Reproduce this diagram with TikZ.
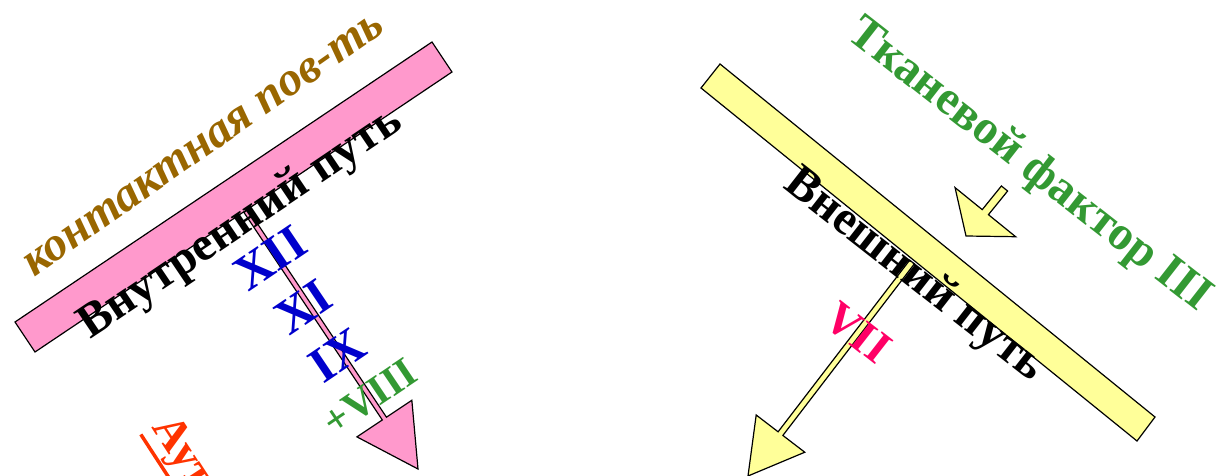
\documentclass[tikz,border=0pt]{standalone}
\usepackage{fontspec}
\setmainfont{Liberation Serif}
\usetikzlibrary{calc}
\definecolor{pinkfill}{HTML}{FF99CC}
\definecolor{yelfill}{HTML}{FFFF99}
\definecolor{brownt}{HTML}{996600}
\definecolor{bluet}{HTML}{0000CC}
\definecolor{greent}{HTML}{339933}
\definecolor{magt}{HTML}{FF0066}
\definecolor{redt}{HTML}{FF3300}
\begin{document}
\begin{tikzpicture}[x=1pt,y=-1pt,line join=miter,
  bar/.style={draw=black,line width=1.2pt},
  lbl/.style={font=\fontsize{48}{52}\selectfont\bfseries,inner sep=0pt},
  ital/.style={font=\fontsize{48}{52}\selectfont\bfseries\itshape,inner sep=0pt},
  num/.style={font=\fontsize{50}{54}\selectfont\bfseries,inner sep=0pt}]
\useasboundingbox (0,0) rectangle (1220,476);
\clip (0,0) rectangle (1220,476);
% bars
\draw[bar,fill=pinkfill] (15,322) -- (35,352) -- (452,72) -- (432,42) -- cycle;
\draw[bar,fill=yelfill] (701,88) -- (720,64) -- (1155,417) -- (1137,441) -- cycle;
% pink block arrow
\coordinate (pS) at (246,211);
\coordinate (pT) at (418,469);
\coordinate (pM) at ($(pT)!60.6pt!(pS)$);
\draw[bar,fill=pinkfill] ($(pS)!2.5pt!90:(pT)$) -- ($(pM)!2.5pt!90:(pT)$) -- ($(pM)!33pt!90:(pT)$) -- (pT) -- ($(pM)!33pt!-90:(pT)$) -- ($(pM)!2.5pt!-90:(pT)$) -- ($(pS)!2.5pt!-90:(pT)$) -- cycle;
% yellow block arrow
\coordinate (yS) at (912,262);
\coordinate (yT) at (748,476);
\coordinate (yM) at ($(yT)!53.4pt!(yS)$);
\draw[bar,fill=yelfill] ($(yS)!3pt!90:(yT)$) -- ($(yM)!3pt!90:(yT)$) -- ($(yM)!30.6pt!90:(yT)$) -- (yT) -- ($(yM)!30.6pt!-90:(yT)$) -- ($(yM)!3pt!-90:(yT)$) -- ($(yS)!3pt!-90:(yT)$) -- cycle;
% small tissue factor arrow
\coordinate (sS) at (1004.5,188.5);
\coordinate (sT) at (966,236);
\coordinate (sM) at ($(sT)!30.7pt!(sS)$);
\draw[bar,fill=yelfill] ($(sS)!4pt!90:(sT)$) -- ($(sM)!4pt!90:(sT)$) -- ($(sM)!39pt!90:(sT)$) -- (sT) -- ($(sM)!39pt!-90:(sT)$) -- ($(sM)!4pt!-90:(sT)$) -- ($(sS)!4pt!-90:(sT)$) -- cycle;
% left texts
\node[ital,text=brownt,rotate=35] (kont) at (204,145) {контактная пов-ть};
\node[lbl,rotate=34] (vnut) at (241,224) {Внутренний путь};
\node[num,text=bluet,rotate=34] (n12) at (270,258) {XII};
\node[num,text=bluet,rotate=34] (n11) at (303,307) {XI};
\node[num,text=bluet,rotate=34] (n9) at (337,355) {IX};
\node[lbl,font=\fontsize{42}{46}\selectfont\bfseries,text=greent,rotate=34] (n8) at (370,397) {+VIII};
\node[lbl,font=\fontsize{46}{50}\selectfont\bfseries,text=redt,rotate=-57,anchor=north west,inner ysep=3pt] (aut) at (180,409) {Аут};
\draw[redt,line width=3.5pt] (aut.south west) -- (aut.south east);
% right texts
\node[lbl,text=greent,rotate=-38] (tf) at (1029,166) {Тканевой фактор III};
\node[lbl,rotate=-38] (vnesh) at (914,276) {Внешний путь};
\node[num,font=\fontsize{46}{50}\selectfont\bfseries,text=magt,rotate=-38] (n7) at (858,333) {VII};
\end{tikzpicture}
\end{document}
